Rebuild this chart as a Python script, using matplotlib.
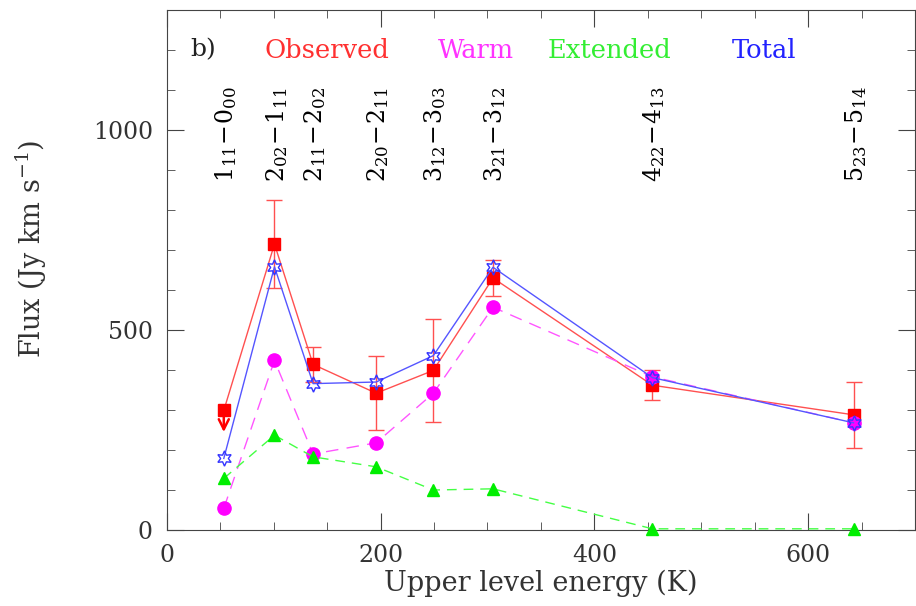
import numpy as np
import matplotlib
matplotlib.use("Agg")
import matplotlib.pyplot as plt
from matplotlib.ticker import MultipleLocator

plt.rcParams['font.family'] = 'DejaVu Serif'
plt.rcParams['mathtext.fontset'] = 'dejavuserif'

# Upper level energies (K) of the transitions
energy = np.array([53.4, 100.8, 136.9, 195.9, 249.4, 305.2, 454.3, 642.4])
labels = [r"$1_{11}\!-\!0_{00}$", r"$2_{02}\!-\!1_{11}$", r"$2_{11}\!-\!2_{02}$",
          r"$2_{20}\!-\!2_{11}$", r"$3_{12}\!-\!3_{03}$", r"$3_{21}\!-\!3_{12}$",
          r"$4_{22}\!-\!4_{13}$", r"$5_{23}\!-\!5_{14}$"]

# Fluxes (Jy km/s)
observed = np.array([299, 715, 414, 342, 399, 630, 362, 288])
obs_err = np.array([0, 110, 43, 92, 129, 46, 38, 83])
warm = np.array([54, 424, 190, 218, 342, 557, 383, 268])
extended = np.array([129, 237, 183, 158, 100, 103, 3, 3])
total = np.array([179, 658, 366, 370, 436, 657, 381, 268])

fig = plt.figure(figsize=(9.16, 6.06), dpi=100)
ax = fig.add_axes([0.182, 0.1254, 0.817, 0.858])

# Observed, with errors (first point is an upper limit)
ax.plot(energy, observed, "-", color="#ff5050", lw=1.0, zorder=2)
ax.errorbar(energy[1:], observed[1:], yerr=obs_err[1:], fmt="none", ecolor="#ff5050",
            elinewidth=1.0, capsize=6, capthick=1.0, zorder=2)
ax.plot(energy, observed, "s", color="red", ms=8, zorder=3)
ax.annotate("", xy=(energy[0], 238), xytext=(energy[0], observed[0]),
            arrowprops=dict(arrowstyle="->", color="red", lw=1.8, mutation_scale=18), zorder=3)

# Warm component
ax.plot(energy, warm, "--", color="#ff55ff", lw=1.0, dashes=(9, 6), zorder=3)
ax.plot(energy, warm, "o", color="#ff00ff", ms=9.5, zorder=4)

# Extended component
ax.plot(energy, extended, "--", color="#44ff44", lw=1.0, dashes=(7, 5), zorder=4, clip_on=False)
ax.plot(energy, extended, "^", color="#00ee00", ms=8, zorder=5, clip_on=False)

# Total
ax.plot(energy, total, "-", color="#5555ff", lw=1.0, zorder=5)
ax.plot(energy, total, marker=(6, 1, 0), ls="none", mfc="none", mec="#3333ff", mew=1.0,
        ms=11, zorder=6)

# Transition labels
for e, lab in zip(energy, labels):
    ax.text(e + 2, 870, lab, rotation=90, ha="center", va="bottom", fontsize=17)

# Panel label and legend text
ax.text(22, 1200, "b)", fontsize=18, va="center", ha="left", color="#222222")
ax.text(150, 1200, "Observed", color="#ff3030", fontsize=18.5, va="center", ha="center")
ax.text(289, 1200, "Warm", color="#ff33ff", fontsize=18.5, va="center", ha="center")
ax.text(414, 1200, "Extended", color="#33ee33", fontsize=18.5, va="center", ha="center")
ax.text(559, 1200, "Total", color="#2222ff", fontsize=18.5, va="center", ha="center")

ax.set_xlim(0, 700)
ax.set_ylim(0, 1300)
ax.xaxis.set_major_locator(MultipleLocator(200))
ax.xaxis.set_minor_locator(MultipleLocator(50))
ax.yaxis.set_major_locator(MultipleLocator(500))
ax.yaxis.set_minor_locator(MultipleLocator(100))
ax.tick_params(which="both", direction="in", top=True, right=True, labelsize=17,
               color="#444444", labelcolor="#333333")
ax.tick_params(which="major", length=12, pad=10)
ax.tick_params(which="minor", length=6)
for s in ax.spines.values():
    s.set_color("#444444")

ax.set_xlabel("Upper level energy (K)", fontsize=19.5, color="#333333", labelpad=2)
ax.set_ylabel(r"Flux (Jy km s$^{-1}$)", fontsize=19.5, color="#333333")
ax.yaxis.set_label_coords(-0.157, 0.54)

fig.savefig("out.png", dpi=100)
